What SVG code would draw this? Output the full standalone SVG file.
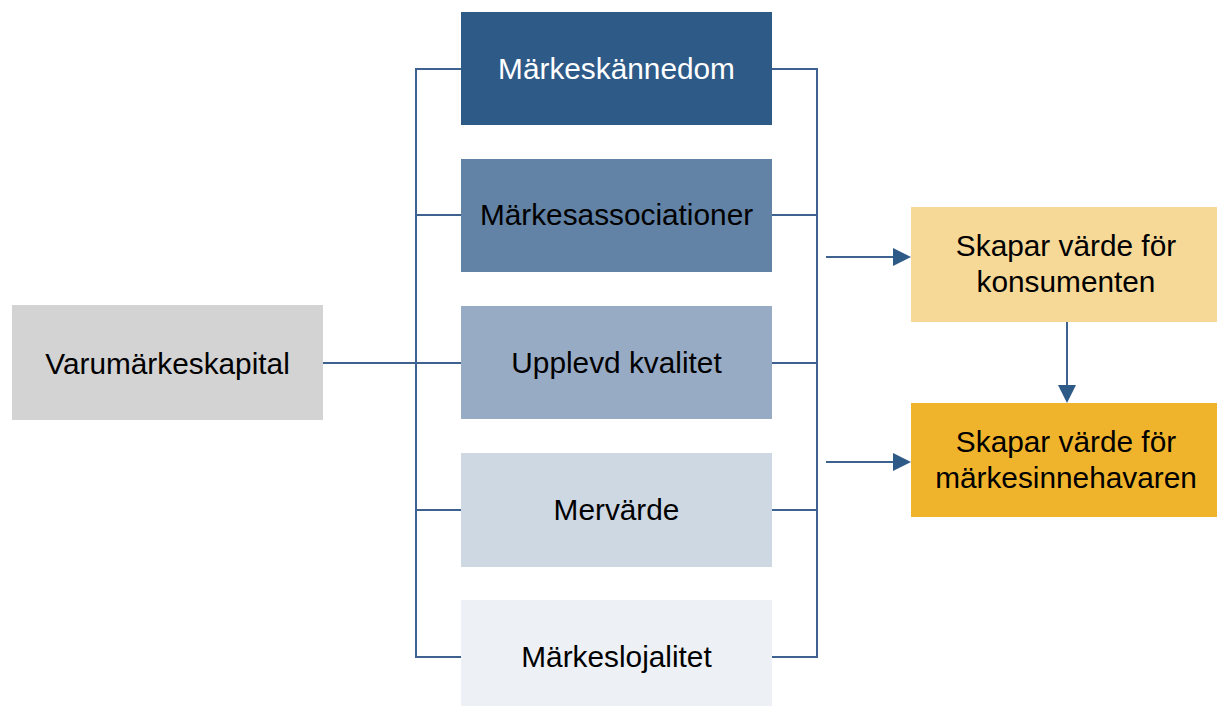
<svg xmlns="http://www.w3.org/2000/svg" width="1217" height="706" viewBox="0 0 1217 706">
  <style>
    .lbl { font-family: "Liberation Sans", Arial, sans-serif; font-size: 29.8px; text-anchor: middle; fill: #000; }
    .light { fill: #fff; }
    .wire { fill: none; stroke: #3D6290; stroke-width: 2; }
    .head { fill: #2E5A87; }
  </style>
  <rect width="1217" height="706" fill="#fff"/>

  <g id="connectors">
    <!-- left bracket -->
    <path class="wire" d="M461,69 H416 V657 H461 M416,215 H461 M323,363 H461 M416,510 H461"/>
    <!-- right bracket -->
    <path class="wire" d="M772,69 H817 V657 H772 M772,215 H817 M772,363 H817 M772,510 H817"/>
    <!-- arrows to the value boxes -->
    <path class="wire" d="M826,257 H895"/>
    <path class="head" d="M893,248 L911,257 L893,266 Z"/>
    <path class="wire" d="M826,462 H895"/>
    <path class="head" d="M893,453 L911,462 L893,471 Z"/>
    <path class="wire" d="M1067,322 V387"/>
    <path class="head" d="M1058,385 L1067,403 L1076,385 Z"/>
  </g>

  <g id="varumarkeskapital">
    <rect x="12" y="305" width="311" height="115" fill="#D3D3D3"/>
    <text class="lbl" x="167.5" y="374">Varumärkeskapital</text>
  </g>

  <g id="markeskannedom">
    <rect x="461" y="12" width="311" height="113" fill="#2E5A87"/>
    <text class="lbl light" x="616.5" y="79">Märkeskännedom</text>
  </g>
  <g id="markesassociationer">
    <rect x="461" y="159" width="311" height="113" fill="#6283A6"/>
    <text class="lbl" x="616.5" y="225">Märkesassociationer</text>
  </g>
  <g id="upplevd-kvalitet">
    <rect x="461" y="306" width="311" height="113" fill="#98ABC5"/>
    <text class="lbl" x="616.5" y="373">Upplevd kvalitet</text>
  </g>
  <g id="mervarde">
    <rect x="461" y="453" width="311" height="114" fill="#CED8E3"/>
    <text class="lbl" x="616.5" y="520">Mervärde</text>
  </g>
  <g id="markeslojalitet">
    <rect x="461" y="600" width="311" height="106" fill="#EDF0F5"/>
    <text class="lbl" x="616.5" y="667">Märkeslojalitet</text>
  </g>

  <g id="konsumenten">
    <rect x="911" y="207" width="306" height="115" fill="#F6D997"/>
    <text class="lbl" x="1066" y="256">Skapar värde för</text>
    <text class="lbl" x="1066" y="292">konsumenten</text>
  </g>
  <g id="markesinnehavaren">
    <rect x="911" y="403" width="306" height="114" fill="#F0B42C"/>
    <text class="lbl" x="1066" y="452">Skapar värde för</text>
    <text class="lbl" x="1066" y="488">märkesinnehavaren</text>
  </g>
</svg>
